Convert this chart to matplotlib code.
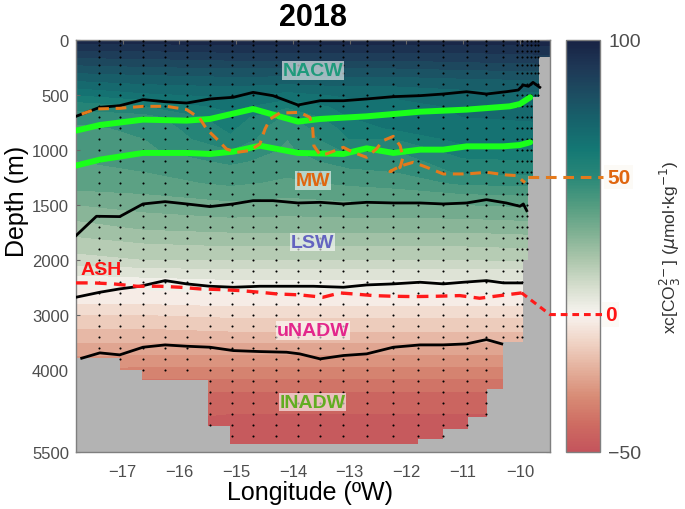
import numpy as np
import matplotlib
matplotlib.use('Agg')
import matplotlib.pyplot as plt
import matplotlib.cm as cm
from matplotlib.colors import LinearSegmentedColormap, Normalize
from matplotlib.lines import Line2D

plt.rcParams['font.family'] = ['Liberation Sans', 'DejaVu Sans']

# ---- xc[CO3] section ----
station_lon = [-17.82, -16.6, -15.1, -14.1, -13.0, -12.2, -11.0, -9.47]
depth_lev = [0, 100, 200, 300, 400, 500, 600, 700, 800, 900, 1000, 1100, 1200, 1300,
             1400, 1500, 1700, 1850, 2000, 2200, 2400, 2600, 2800, 3000, 3300, 3600,
             3900, 4200, 4500, 4800, 5100, 5500]
xc = [
    [98, 98, 98, 98, 98, 98, 98, 98],
    [90, 90, 91, 91, 91, 91, 91, 92],
    [82, 83, 84, 84, 84, 84, 85, 86],
    [75, 76, 77, 77, 77, 77, 78, 79],
    [68, 70, 71, 70, 71, 71, 72, 73],
    [60, 64, 66, 63, 66, 66, 68, 69],
    [52, 55, 62, 56, 62, 63, 66, 67],
    [47, 48, 58, 49, 60, 62, 65, 66],
    [44, 46, 56, 46, 57, 61, 64, 64],
    [42, 45, 54, 45, 55, 55, 62, 62],
    [41, 44, 50, 44, 51, 50, 58, 59],
    [40, 42, 46, 43, 47, 47, 54, 55],
    [39, 40, 43, 41, 44, 45, 51, 51],
    [37, 38, 41, 39, 41, 42, 46, 47],
    [34, 35, 37, 36, 37, 38, 40, 41],
    [30, 32, 34, 33, 34, 34, 35, 36],
    [23, 26, 27, 27, 27, 27, 27, 28],
    [18, 20, 21, 21, 21, 21, 21, 22],
    [13, 15, 15, 15, 15, 15, 15, 16],
    [7, 8, 9, 9, 9, 9, 9, 9],
    [2, 3, 4, 4, 4, 4, 4, 4],
    [-2, -1, 0, 0, 0, 0, 0, 0],
    [-5, -5, -4, -4, -4, -4, -4, -4],
    [-10, -10, -9, -9, -9, -9, -9, -9],
    [-16, -16, -15, -15, -15, -15, -15, -15],
    [-22, -22, -22, -22, -22, -22, -22, -22],
    [-28, -29, -29, -29, -29, -29, -29, -29],
    [-35, -36, -36, -36, -36, -36, -36, -36],
    [-40, -41, -42, -42, -42, -42, -42, -42],
    [-43, -44, -45, -45, -45, -45, -45, -45],
    [-45, -46, -46, -47, -47, -47, -47, -47],
    [-47, -47, -48, -48, -48, -48, -48, -48],
]

# bottom topography (step edges in lon, bottom depth per step)
bathy_edges = [-17.82, -17.05, -16.66, -15.49, -15.11, -11.79, -11.35, -10.91, -10.58,
               -10.30, -9.94, -9.86, -9.77, -9.66, -9.47]
bathy_depth = [3794, 4000, 4182, 5018, 5352, 5261, 5079, 4867, 4352, 3500, 2000, 1240, 520, 157]

# sampling positions (dots)
dot_lon = [-17.42, -17.04, -16.64, -16.25, -15.87, -15.46, -15.08, -14.70, -14.29, -13.91,
           -13.52, -13.11, -12.70, -12.23, -11.79, -11.35, -10.94, -10.59, -10.29, -10.05,
           -9.96, -9.88, -9.80, -9.73, -9.68]
dot_depth = [15, 50, 100, 160, 230, 300, 400, 500, 600, 700, 800, 900, 1000, 1100, 1200,
             1300, 1400, 1500, 1600, 1700, 1800, 1900, 2000, 2200, 2400, 2600, 2800, 3000,
             3200, 3400, 3600, 3800, 4000, 4200, 4400, 4600, 4800, 5000, 5200, 5350]

# isopycnals (black)
iso1_lon = [-17.82, -17.40, -17.05, -16.64, -16.25, -15.87, -15.46, -15.05, -14.70, -14.35,
            -13.91, -13.52, -13.11, -12.70, -12.23, -11.76, -11.35, -10.94, -10.59, -10.24,
            -10.03, -9.94, -9.85, -9.77, -9.65]
iso1_dep = [697, 615, 600, 545, 564, 576, 539, 524, 479, 509, 594, 555, 555, 539, 518, 509,
            494, 473, 494, 473, 458, 412, 424, 388, 433]
iso2_lon = [-17.82, -17.46, -17.05, -16.64, -16.25, -15.87, -15.46, -15.05, -14.70, -14.35,
            -13.91, -13.52, -13.11, -12.70, -12.23, -11.76, -11.35, -10.94, -10.59, -10.24,
            -10.00, -9.94, -9.88]
iso2_dep = [1782, 1606, 1609, 1494, 1473, 1494, 1518, 1494, 1464, 1464, 1485, 1479, 1494,
            1479, 1485, 1485, 1494, 1485, 1455, 1485, 1515, 1494, 1555]
iso3_lon = [-17.82, -17.40, -17.05, -16.69, -16.25, -15.87, -15.46, -15.05, -14.58, -14.11,
            -13.64, -13.11, -12.70, -12.23, -11.76, -11.35, -11.00, -10.59, -10.29, -9.97]
iso3_dep = [2685, 2594, 2533, 2485, 2382, 2442, 2485, 2503, 2485, 2485, 2485, 2503, 2461,
            2442, 2412, 2442, 2412, 2382, 2424, 2424]
iso4_lon = [-17.72, -17.40, -17.05, -16.64, -16.25, -15.87, -15.46, -15.05, -14.58, -14.11,
            -13.88, -13.52, -13.11, -12.70, -12.23, -11.76, -11.35, -10.94, -10.59, -10.32]
iso4_dep = [3794, 3697, 3733, 3594, 3552, 3576, 3594, 3655, 3673, 3685, 3715, 3806, 3745,
            3715, 3594, 3552, 3552, 3533, 3455, 3533]

# MW core boundaries (green)
mw1_lon = [-17.82, -17.40, -16.64, -15.87, -15.46, -14.70, -13.91, -13.52, -12.70, -11.76,
           -10.94, -10.18, -10.00, -9.82]
mw1_dep = [827, 776, 727, 736, 721, 630, 745, 721, 697, 655, 636, 606, 585, 524]
mw2_lon = [-17.82, -17.40, -16.64, -15.87, -15.46, -15.05, -14.58, -13.91, -13.11, -12.70,
           -12.23, -11.76, -11.35, -10.94, -10.29, -10.00, -9.82]
mw2_dep = [1145, 1091, 1030, 1030, 1039, 1018, 964, 1030, 1039, 988, 1030, 1000, 1000, 970,
           970, 958, 933]

# xc = 50 contour (orange) and xc = 0 contour (ASH, red)
c50_lon = [-17.72, -17.46, -17.05, -16.64, -16.22, -15.87, -15.64, -15.52, -15.34, -15.17,
           -14.99, -14.76, -14.58, -14.49, -14.40, -14.23, -13.88, -13.70, -13.65, -13.63,
           -13.52, -13.41, -13.11, -12.94, -12.70, -12.53, -12.41, -12.23, -12.11, -12.06,
           -12.11, -12.29, -12.11, -11.88, -11.64, -11.35, -10.94, -10.59, -10.24, -10.06, -9.91]
c50_dep = [676, 630, 624, 606, 606, 636, 715, 812, 903, 994, 1024, 1009, 948, 812, 721, 667,
           661, 706, 812, 964, 1048, 1039, 979, 1024, 1070, 994, 918, 879, 964, 1070, 1161,
           1200, 1150, 1115, 1161, 1221, 1221, 1206, 1230, 1236, 1300]
c0_lon = [-17.82, -17.52, -17.16, -16.75, -16.34, -15.99, -15.64, -15.29, -14.93, -14.58,
          -14.29, -13.88, -13.47, -13.17, -12.94, -12.58, -12.23, -11.88, -11.47, -11.06,
          -10.71, -10.35, -9.97]
c0_dep = [2424, 2424, 2442, 2485, 2485, 2503, 2533, 2545, 2564, 2594, 2624, 2642, 2685, 2606,
          2624, 2655, 2667, 2673, 2667, 2655, 2703, 2655, 2606]

# water mass labels
wm_names = ['NACW', 'MW', 'LSW', 'ASH', 'uNADW', 'lNADW']
wm_lon = [-13.65, -13.65, -13.65, -17.37, -13.65, -13.65]
wm_dep = [282, 1282, 1842, 2182, 3291, 4594]
wm_color = ['#1f9a7c', '#e0660f', '#6464c0', '#ff1414', '#e3268c', '#62ad22']

# colour scale anchors (value, rgb)
cmap_vals = [-50, -40, -30, -20, -10, 0, 10, 20, 30, 40, 50, 60, 70, 80, 90, 100]
cmap_rgb = [(196, 84, 92), (206, 108, 98), (216, 140, 118), (228, 176, 156), (240, 212, 198),
            (248, 244, 240), (214, 222, 206), (172, 198, 172), (126, 176, 146), (82, 156, 128),
            (42, 136, 120), (20, 120, 116), (22, 100, 108), (28, 78, 98), (30, 56, 86),
            (24, 34, 68)]

vmin, vmax = -50, 100
cmap = LinearSegmentedColormap.from_list(
    'xc', [((v - vmin) / (vmax - vmin), tuple(c / 255 for c in rgb))
           for v, rgb in zip(cmap_vals, cmap_rgb)])
norm = Normalize(vmin, vmax)


def fwd(d):
    d = np.asarray(d, dtype=float)
    return np.where(d <= 2000, d, 2000 + (d - 2000) / 2.0)


def inv(y):
    y = np.asarray(y, dtype=float)
    return np.where(y <= 2000, y, 2000 + (y - 2000) * 2.0)


fig = plt.figure(figsize=(6.85, 5.10), dpi=100)
ax = fig.add_axes([76 / 685, 57 / 510, 474 / 685, 412.3 / 510])
cax = fig.add_axes([566 / 685, 57 / 510, 34 / 685, 412.3 / 510])

ax.set_yscale('function', functions=(fwd, inv))
ax.set_facecolor('#b3b3b3')

levels = np.arange(-50, 101, 5)
ax.contourf(station_lon, depth_lev, np.array(xc), levels=levels, cmap=cmap, norm=norm,
            extend='both', zorder=1)

# topography
by = list(bathy_depth) + [bathy_depth[-1]]
ax.fill_between(bathy_edges, by, 5600, step='post', color='#b3b3b3', lw=0, zorder=2)

# sample dots
edges = np.array(bathy_edges)
for lo in dot_lon:
    k = min(np.searchsorted(edges, lo) - 1, len(bathy_depth) - 1)
    bot = bathy_depth[max(k, 0)]
    dd = [d for d in dot_depth if d < bot - 15]
    ax.plot([lo] * len(dd), dd, 'o', ms=1.5, color='black', mew=0, zorder=3)

ax.plot(mw1_lon, mw1_dep, color='#1aff1a', lw=4.3, zorder=4, solid_capstyle='round')
ax.plot(mw2_lon, mw2_dep, color='#1aff1a', lw=4.3, zorder=4, solid_capstyle='round')
for lo, de in [(iso1_lon, iso1_dep), (iso2_lon, iso2_dep), (iso3_lon, iso3_dep),
               (iso4_lon, iso4_dep)]:
    ax.plot(lo, de, color='black', lw=2.0, zorder=5)
ax.plot(c50_lon, c50_dep, color='#e47a1c', lw=2.2, ls=(0, (3.5, 2.2)), zorder=6)
ax.plot(c0_lon, c0_dep, color='#ff1a1a', lw=2.4, ls=(0, (3.5, 2.2)), zorder=6)

for name, lo, de, col in zip(wm_names, wm_lon, wm_dep, wm_color):
    bb = None if name == 'ASH' else dict(facecolor='white', alpha=0.6, edgecolor='none', pad=0.5)
    ax.text(lo, de, name, color=col, fontsize=14, fontweight='bold', ha='center', va='center',
            bbox=bb, zorder=7)

ax.set_xlim(-17.82, -9.47)
ax.set_ylim(5500, 0)
ax.set_xticks(range(-17, -9))
ax.set_yticks([0, 500, 1000, 1500, 2000, 3000, 4000, 5500])
ax.set_yticklabels(['0', '500', '1000', '1500', '2000', '3000', '4000', '5500'])
ax.tick_params(direction='in', top=True, right=True, length=3, width=0.8, color='#666666',
               labelsize=12, labelcolor='#4d4d4d')
ax.tick_params(axis='x', pad=9)
ax.tick_params(axis='y', pad=5)
for s in ax.spines.values():
    s.set_color('#7f7f7f')
    s.set_linewidth(1.0)
ax.set_xlabel('Longitude (ºW)', fontsize=18)
ax.set_ylabel('Depth (m)', fontsize=18)
ax.xaxis.set_label_coords(0.494, -0.068)
ax.yaxis.set_label_coords(-0.10, 0.61)

sm = cm.ScalarMappable(norm=norm, cmap=cmap)
cb = fig.colorbar(sm, cax=cax)
cb.set_ticks([-50, 100])
cb.ax.tick_params(length=0, labelsize=14, labelcolor='#4d4d4d', pad=6)
cb.outline.set_edgecolor('#7f7f7f')
cb.outline.set_linewidth(1.0)

fig.text(313 / 685, 1 - 18 / 510, '2018', ha='center', va='center', fontsize=22,
         fontweight='bold')
fig.text(670 / 685, 1 - 247 / 510, r'xc[CO$_3^{2\!-}$] ($\mu$mol$\cdot$kg$^{-1}$)',
         rotation=90, ha='center', va='center', fontsize=12.5, color='#333333')

# connectors to the colour bar
tf = fig.transFigure.inverted()
xr = 603 / 685
p50 = tf.transform(ax.transData.transform((-9.86, 1240)))
y50 = tf.transform(cax.transData.transform((0.5, 50)))[1]
fig.add_artist(Line2D([p50[0], xr], [y50, y50], color='#e47a1c', lw=2.2,
                      ls=(0, (3.5, 2.2)), zorder=10))
p0 = tf.transform(ax.transData.transform((c0_lon[-1], c0_dep[-1])))
y0 = tf.transform(cax.transData.transform((0.5, 0)))[1]
xe = tf.transform(ax.transAxes.transform((1.0, 0)))[0]
fig.add_artist(Line2D([p0[0], xe, xr], [p0[1], y0, y0], color='#ff1a1a', lw=2.2,
                      ls=(0, (2.2, 1.6)), zorder=10))
fig.text(607 / 685, y50, '50', color='#e0660f', fontsize=15, fontweight='bold', va='center',
         ha='left', bbox=dict(facecolor='#fcfaf6', edgecolor='none', pad=2), zorder=11)
fig.text(605 / 685, y0, '0', color='#ff1414', fontsize=15, fontweight='bold', va='center',
         ha='left', bbox=dict(facecolor='#fcfaf6', edgecolor='none', pad=2), zorder=11)

fig.savefig('out.png', dpi=100)
